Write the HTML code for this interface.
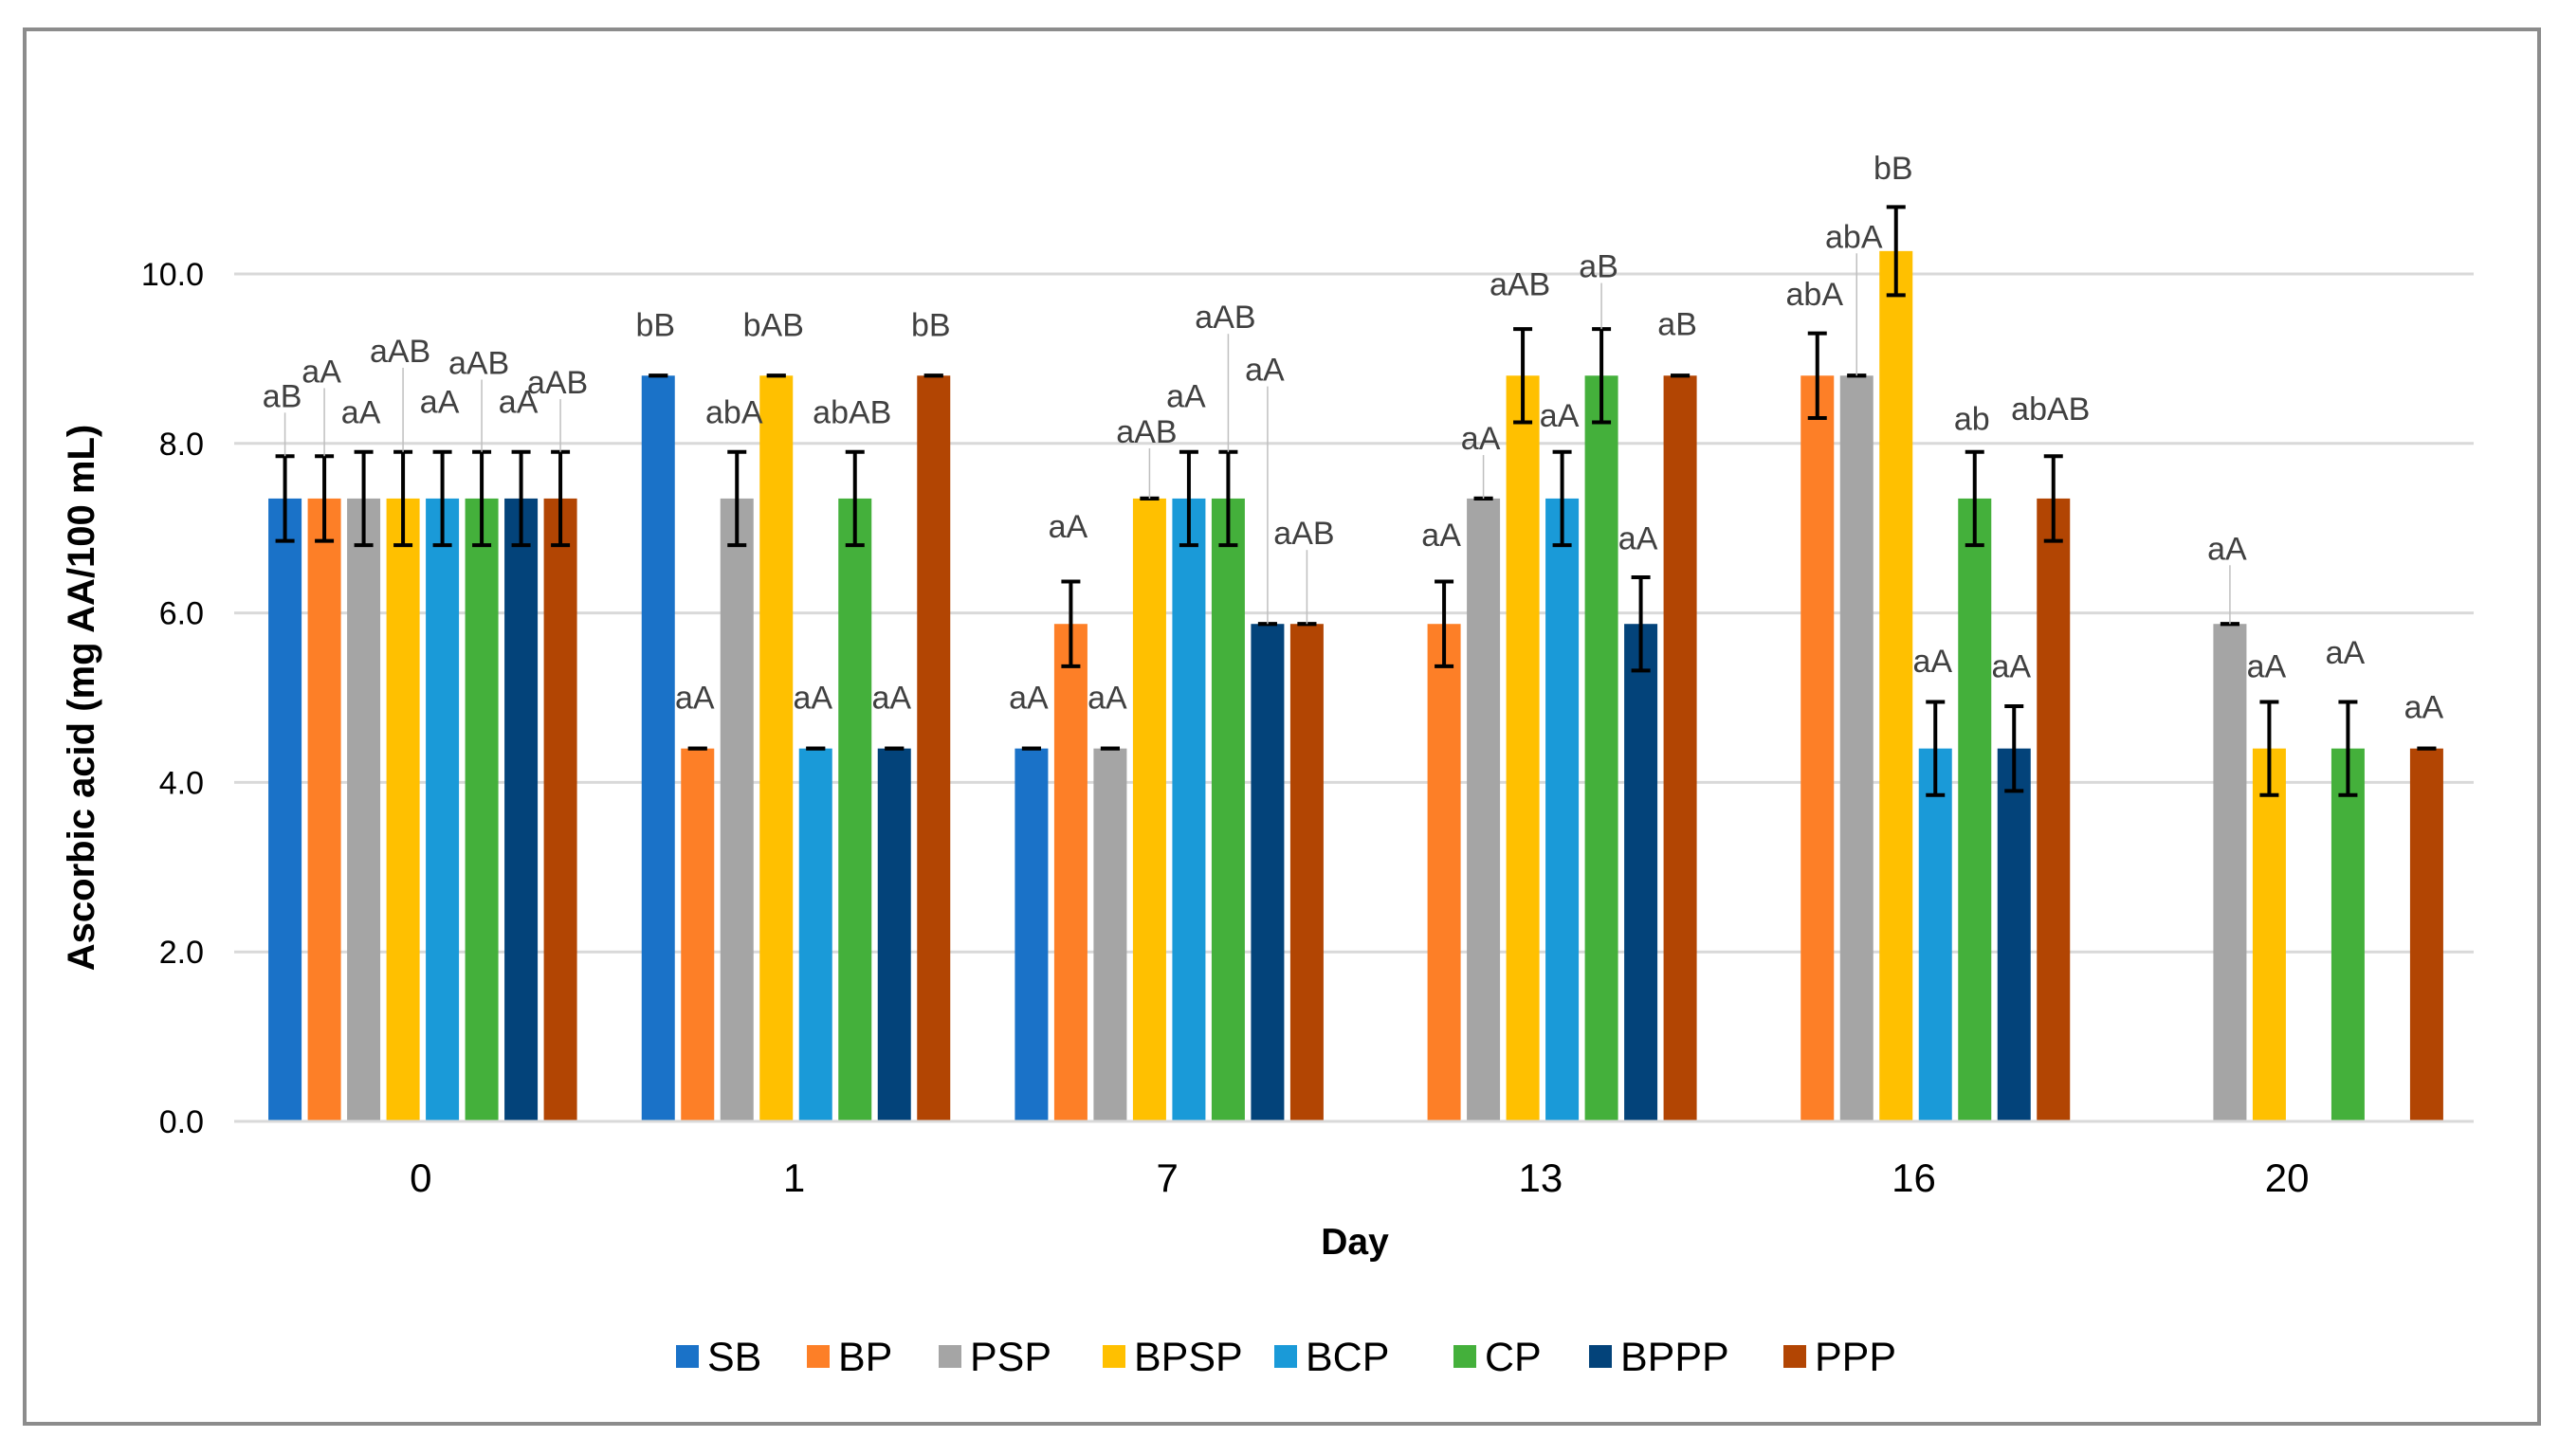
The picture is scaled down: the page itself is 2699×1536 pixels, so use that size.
<!DOCTYPE html>
<html><head><meta charset="utf-8"><style>
html,body{margin:0;padding:0;background:#fff;}
svg text{font-family:"Liberation Sans",Arial,sans-serif;}
</style></head><body>
<svg id="chart" width="2699" height="1531" viewBox="0 0 2699 1531" xmlns="http://www.w3.org/2000/svg">
<rect x="26" y="31" width="2652" height="1471" fill="#fff" stroke="#8c8c8c" stroke-width="4"/>
<g id="grid"></g><g id="bars"></g><g id="labels"></g><g id="axes"></g><g id="legend"></g>
<text x="99" y="736" transform="rotate(-90 99 736)" text-anchor="middle" font-size="40" font-weight="bold" fill="#000">Ascorbic acid  (mg AA/100 mL)</text>
<text x="1429" y="1323" text-anchor="middle" font-size="39" font-weight="bold" fill="#000">Day</text>
</svg>
<script>
const categories = ["0","1","7","13","16","20"];
const seriesNames = ["SB","BP","PSP","BPSP","BCP","CP","BPPP","PPP"];
const seriesColors = ["#1a72c8","#fd7f27","#a5a5a5","#ffc000","#1a9ad8","#44b03b","#03437a","#b24503"];
const valSB   = [7.35, 8.8, 4.4, null, null, null];
const valBP   = [7.35, 4.4, 5.87, 5.87, 8.8, null];
const valPSP  = [7.35, 7.35, 4.4, 7.35, 8.8, 5.87];
const valBPSP = [7.35, 8.8, 7.35, 8.8, 10.27, 4.4];
const valBCP  = [7.35, 4.4, 7.35, 7.35, 4.4, null];
const valCP   = [7.35, 7.35, 7.35, 8.8, 7.35, 4.4];
const valBPPP = [7.35, 4.4, 5.87, 5.87, 4.4, null];
const valPPP  = [7.35, 8.8, 5.87, 8.8, 7.35, 4.4];
const errSB   = [0.5, 0, 0, 0, 0, 0];
const errBP   = [0.5, 0, 0.5, 0.5, 0.5, 0];
const errPSP  = [0.55, 0.55, 0, 0, 0, 0];
const errBPSP = [0.55, 0, 0, 0.55, 0.52, 0.55];
const errBCP  = [0.55, 0, 0.55, 0.55, 0.55, 0];
const errCP   = [0.55, 0.55, 0.55, 0.55, 0.55, 0.55];
const errBPPP = [0.55, 0, 0, 0.55, 0.5, 0];
const errPPP  = [0.55, 0, 0, 0, 0.5, 0];
const lblSB   = ["aB","bB","aA","","",""];
const lblBP   = ["aA","aA","aA","aA","abA",""];
const lblPSP  = ["aA","abA","aA","aA","abA","aA"];
const lblBPSP = ["aAB","bAB","aAB","aAB","bB","aA"];
const lblBCP  = ["aA","aA","aA","aA","aA",""];
const lblCP   = ["aAB","abAB","aAB","aB","ab","aA"];
const lblBPPP = ["aA","aA","aA","aA","aA",""];
const lblPPP  = ["aAB","bB","aAB","aB","abAB","aA"];
const lyrSB   = [8.43, 9.27, 4.87, 0, 0, 0];
const lyrBP   = [8.72, 4.87, 6.89, 6.79, 9.63, 0];
const lyrPSP  = [8.24, 8.24, 4.87, 7.93, 10.31, 6.63];
const lyrBPSP = [8.96, 9.27, 8.01, 9.75, 11.12, 5.24];
const lyrBCP  = [8.36, 4.87, 8.43, 8.2, 5.3, 0];
const lyrCP   = [8.82, 8.24, 9.36, 9.96, 8.16, 5.4];
const lyrBPPP = [8.36, 4.87, 8.74, 6.75, 5.24, 0];
const lyrPPP  = [8.59, 9.27, 6.81, 9.28, 8.28, 4.76];
const yTicks = [0, 2, 4, 6, 8, 10];
const yTickLabels = ["0.0","2.0","4.0","6.0","8.0","10.0"];

const values = [valSB,valBP,valPSP,valBPSP,valBCP,valCP,valBPPP,valPPP];
const errs = [errSB,errBP,errPSP,errBPSP,errBCP,errCP,errBPPP,errPPP];
const lbls = [lblSB,lblBP,lblPSP,lblBPSP,lblBCP,lblCP,lblBPPP,lblPPP];
const lyrs = [lyrSB,lyrBP,lyrPSP,lyrBPSP,lyrBCP,lyrCP,lyrBPPP,lyrPPP];

const NS="http://www.w3.org/2000/svg";
const X0=247, X1=2609, Y0=1183, Y10=289;
const yScale = v => Y0 - (v/10)*(Y0-Y10);
const catW = (X1-X0)/categories.length;
const pitch = 41.5, barW = 35;
const xCenter = (c,s) => X0 + catW*(c+0.5) + (s - (seriesNames.length-1)/2)*pitch + 2;
function mk(tag, attrs, parent){const e=document.createElementNS(NS,tag);for(const k in attrs)e.setAttribute(k,attrs[k]);parent.appendChild(e);return e;}
const grid=document.getElementById('grid'), bars=document.getElementById('bars'), labels=document.getElementById('labels'), axes=document.getElementById('axes'), legend=document.getElementById('legend');

yTicks.forEach((t,i)=>{
  const y=yScale(t);
  const ln=mk('line',{x1:X0,x2:X1,y1:y,y2:y,stroke:'#d9d9d9','stroke-width':3},grid);
  
  
  const tx=mk('text',{x:215,y:y+12,'text-anchor':'end','font-size':34,fill:'#000'},axes);
  tx.textContent=yTickLabels[i];
  
  
});
categories.forEach((c,i)=>{
  const tx=mk('text',{x:X0+catW*(i+0.5),y:1257,'text-anchor':'middle','font-size':42,fill:'#000'},axes);
  tx.textContent=c;
  
  
});

values.forEach((arr,s)=>{
  arr.forEach((v,c)=>{
    if(v===null) return;
    const cx=xCenter(c,s), top=yScale(v);
    const r=mk('rect',{x:cx-barW/2,y:top,width:barW,height:Y0-top,fill:seriesColors[s]},bars);
    
    
    const e=errs[s][c];
    const yt=yScale(v+e), yb=yScale(v-e);
    const eg=mk('g',{stroke:'#000','stroke-width':4},bars);
    
    
    if(e>0) mk('line',{x1:cx,x2:cx,y1:yt,y2:yb},eg);
    mk('line',{x1:cx-10,x2:cx+10,y1:yt,y2:yt},eg);
    mk('line',{x1:cx-10,x2:cx+10,y1:yb,y2:yb},eg);
    const lt=lbls[s][c];
    if(lt){
      const ly=yScale(lyrs[s][c]);
      if(yt-ly>50){
        const ll=mk('line',{x1:cx,x2:cx,y1:ly+6,y2:yt,stroke:'#bfbfbf','stroke-width':1.5},labels);
        
        
      }
      const t=mk('text',{x:cx-3,y:ly,'text-anchor':'middle','font-size':34,fill:'#404040'},labels);
      t.textContent=lt;
      
      
    }
  });
});
mk('line',{x1:X0,x2:X1,y1:Y0,y2:Y0,stroke:'#d9d9d9','stroke-width':3},axes);

const legX=[713,851,990,1163,1344,1533,1676,1881];
seriesNames.forEach((n,i)=>{
  const g=mk('g',{},legend);
  
  
  mk('rect',{x:legX[i],y:1419,width:24,height:24,fill:seriesColors[i]},g);
  const t=mk('text',{x:legX[i]+33,y:1446,'font-size':43,fill:'#000'},g);
  t.textContent=n;
});
</script>
</body></html>
